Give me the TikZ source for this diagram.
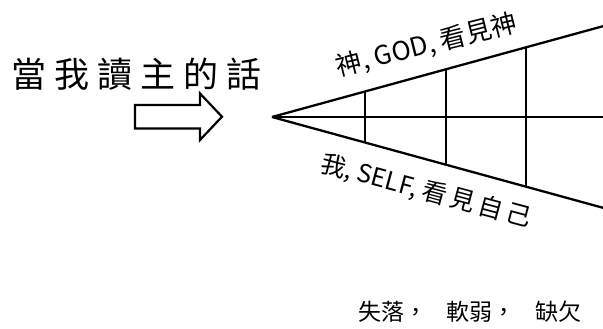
\documentclass[tikz,border=0pt]{standalone}
\usepackage{fontspec}
\setmainfont{Noto Sans CJK TC}
\usetikzlibrary{calc}

\begin{document}
\begin{tikzpicture}[x=1pt,y=-1pt,
  fanline/.style={line width=2.3pt},
  rung/.style={line width=2pt},
  lbl/.style={inner sep=0pt, font=\fontsize{26}{28}\selectfont}]
\useasboundingbox (0,0) rectangle (603,329);
\node[inner sep=0pt, font=\fontsize{35}{40}\selectfont] (reading) at (137,74.5)
  {當\hspace{8pt}我\hspace{8pt}讀\hspace{8pt}主\hspace{8pt}的\hspace{8pt}話};
% block arrow
\draw[line width=2.2pt] (135,105) -- (200,105) -- (200,93.5) -- (222,116.7)
  -- (200,140) -- (200,128.5) -- (135,128.5) -- cycle;
% the fan
\coordinate (apex) at (272,117);
\coordinate (top) at (603,26.2);
\coordinate (mid) at (603,117);
\coordinate (bot) at (603,207.8);
\draw[fanline] (apex) -- (top);
\draw[fanline] (apex) -- (bot);
\draw[line width=1.7pt] (apex) -- (mid);
\foreach \t in {0.281,0.526,0.767}
  \draw[rung] ($(apex)!\t!(top)$) -- ($(apex)!\t!(bot)$);
% labels on the fan
\coordinate (godpt) at ($(apex)!0.49!(top)$);
\coordinate (selfpt) at ($(apex)!0.49!(bot)$);
\node[lbl, rotate=14] (godlbl) at ($(godpt)!28pt!90:(top)$) {神, GOD, 看見神};
\node[lbl, rotate=-15, font=\fontsize{25}{28}\selectfont] (selflbl) at ($(selfpt)!31pt!-90:(bot)$)
  {我, SELF, 看\hspace{4pt}見\hspace{4pt}自\hspace{4pt}己};
\node[inner sep=0pt, font=\fontsize{23}{26}\selectfont] (lack) at (470,312)
  {失落，\hspace{20pt}軟弱，\hspace{20pt}缺欠};
\end{tikzpicture}
\end{document}
